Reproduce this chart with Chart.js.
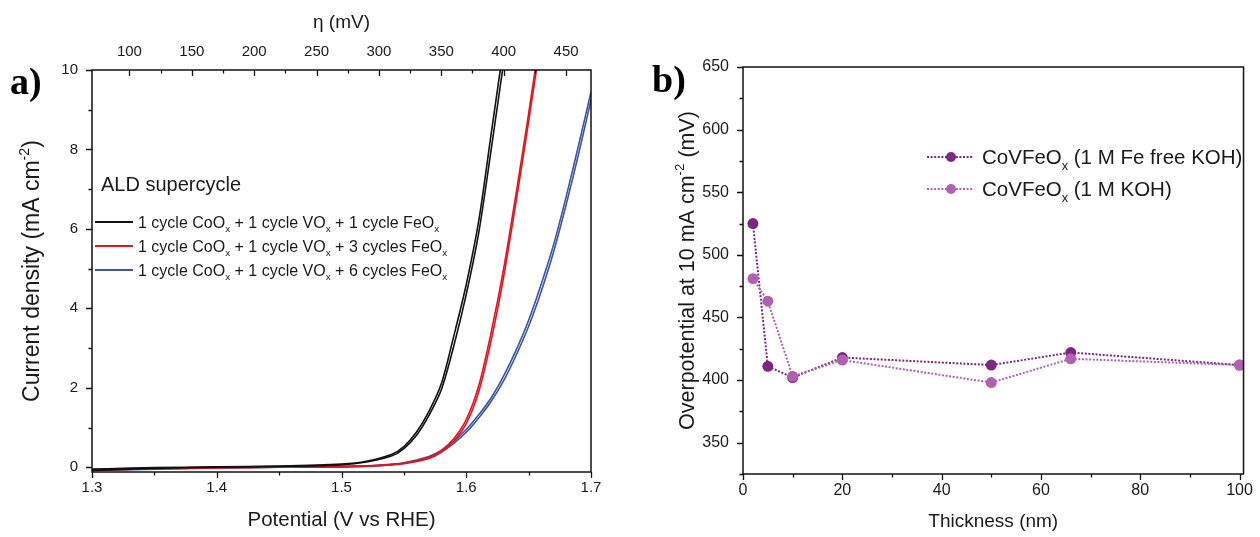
<!DOCTYPE html>
<html><head><meta charset="utf-8">
<script src="https://cdn.jsdelivr.net/npm/chart.js@4.4.1/dist/chart.umd.min.js"></script>
<style>
html,body{margin:0;padding:0;background:#fff;}
#wrap{position:relative;width:1260px;height:537px;overflow:hidden;background:#fff;}
.pane{position:absolute;top:0;width:630px;height:537px;}
#pa{left:0;} #pb{left:630px;}
</style></head><body>
<div id="wrap">
<div class="pane" id="pa"><canvas id="ca" width="630" height="537"></canvas></div>
<div class="pane" id="pb"><canvas id="cb" width="630" height="537"></canvas></div>
</div>
<script>
// ---------- Panel a data ----------
const potTicks = [1.3, 1.4, 1.5, 1.6, 1.7];
const etaTicks = [100, 150, 200, 250, 300, 350, 400, 450];
const jTicks = [0, 2, 4, 6, 8, 10];
const legendTitleA = 'ALD supercycle';
const seriesLabelsA = [
  '1 cycle CoO_{x} + 1 cycle VO_{x} + 1 cycle FeO_{x}',
  '1 cycle CoO_{x} + 1 cycle VO_{x} + 3 cycles FeO_{x}',
  '1 cycle CoO_{x} + 1 cycle VO_{x} + 6 cycles FeO_{x}'
];
const blackV  = [1.30, 1.35, 1.40, 1.45, 1.50, 1.52, 1.54, 1.55, 1.56, 1.57, 1.58, 1.59, 1.60, 1.61, 1.62, 1.63];
const blackJ1 = [-0.05, -0.01, 0.01, 0.03, 0.08, 0.15, 0.32, 0.52, 0.88, 1.40, 2.10, 3.30, 4.60, 6.20, 8.40, 10.6];
const blackJ2 = [-0.08, -0.03, 0.00, 0.02, 0.06, 0.13, 0.28, 0.47, 0.80, 1.30, 1.95, 3.05, 4.35, 5.90, 8.00, 10.2];
const redV  = [1.30, 1.40, 1.45, 1.50, 1.53, 1.55, 1.57, 1.58, 1.59, 1.60, 1.61, 1.62, 1.63, 1.64, 1.65, 1.66];
const redJ1 = [-0.05, 0.00, 0.01, 0.02, 0.05, 0.10, 0.25, 0.42, 0.72, 1.20, 2.05, 3.40, 5.00, 6.90, 8.90, 11.0];
const redJ2 = [-0.07, -0.02, 0.00, 0.01, 0.04, 0.09, 0.22, 0.38, 0.66, 1.10, 1.90, 3.20, 4.80, 6.70, 8.70, 10.8];
const blueV  = [1.30, 1.40, 1.45, 1.50, 1.53, 1.55, 1.57, 1.58, 1.59, 1.60, 1.61, 1.62, 1.63, 1.64, 1.65, 1.66, 1.67, 1.68, 1.69, 1.70];
const blueJ1 = [-0.05, 0.00, 0.01, 0.02, 0.05, 0.11, 0.27, 0.42, 0.65, 0.95, 1.32, 1.75, 2.30, 2.95, 3.70, 4.60, 5.60, 6.80, 8.10, 9.45];
const blueJ2 = [-0.08, -0.02, 0.00, 0.01, 0.04, 0.10, 0.24, 0.38, 0.60, 0.88, 1.24, 1.66, 2.18, 2.82, 3.55, 4.42, 5.42, 6.60, 7.88, 9.25];

// ---------- Panel b data ----------
const thickness = [2, 5, 10, 20, 50, 66, 100];
const etaFeFree = [525, 411, 402, 418, 412, 422, 412];
const etaKOH    = [481, 463, 403, 416, 398, 417, 412];
const seriesLabelsB = ['CoVFeO_{x} (1 M Fe free KOH)', 'CoVFeO_{x} (1 M KOH)'];
const thickTicks = [0, 20, 40, 60, 80, 100];
const opTicks = [350, 400, 450, 500, 550, 600, 650];

// ---------- helpers ----------
const FAM = "'Liberation Sans', Arial, sans-serif";
const TXT = '#1a1a1a';
function parseRich(s){
  const parts=[]; const re=/([_^])\{([^}]*)\}/g; let last=0,m;
  while((m=re.exec(s))){
    if(m.index>last) parts.push({t:s.slice(last,m.index),k:'n'});
    parts.push({t:m[2],k:m[1]==='_'?'sub':'sup'}); last=re.lastIndex;
  }
  if(last<s.length) parts.push({t:s.slice(last),k:'n'});
  return parts;
}
function drawRich(ctx, s, x, y, size, align, color){
  const parts=parseRich(s);
  let total=0;
  parts.forEach(p=>{p.sz = p.k==='n'?size:size*0.62; ctx.font=p.sz+'px '+FAM; p.w=ctx.measureText(p.t).width; total+=p.w;});
  let cx = align==='center'? x-total/2 : (align==='right'? x-total : x);
  const base = y + size*0.35;
  ctx.save(); ctx.fillStyle=color||TXT; ctx.textBaseline='alphabetic'; ctx.textAlign='left';
  parts.forEach(p=>{
    ctx.font=p.sz+'px '+FAM;
    const dy = p.k==='sub'? size*0.3 : (p.k==='sup'? -size*0.42 : 0);
    ctx.fillText(p.t, cx, base+dy); cx+=p.w;
  });
  ctx.restore();
}
function pts(xs, ys){ return xs.map((v,i)=>({x:v,y:ys[i]})); }
function fixedTicks(arr){ return s=>{ s.ticks = arr.map(v=>({value:v})); }; }
function minorOf(arr){ const r=[]; for(let i=0;i<arr.length-1;i++) r.push((arr[i]+arr[i+1])/2); return r; }

function drawTicks(ctx, scale, values, len, dir){
  const ca = scale.chart.chartArea;
  ctx.beginPath();
  values.forEach(v=>{
    const p = Math.round(scale.getPixelForValue(v))+0.5;
    if(scale.position==='bottom'){ const s = dir==='out'?1:-1; ctx.moveTo(p, ca.bottom); ctx.lineTo(p, ca.bottom+s*len); }
    else if(scale.position==='top'){ const s = dir==='out'?-1:1; ctx.moveTo(p, ca.top); ctx.lineTo(p, ca.top+s*len); }
    else if(scale.position==='left'){ const s = dir==='out'?-1:1; ctx.moveTo(ca.left, p); ctx.lineTo(ca.left+s*len, p); }
  });
  ctx.stroke();
}

const COL = {black:'#111111', red:'#e3141c', blue:'#3b55a6', dark:'#7d2783', light:'#b460b2'};

// ---------- Panel a ----------
const plugA = {
  id:'decorA',
  afterDraw(chart){
    const ctx=chart.ctx, ca=chart.chartArea, sc=chart.scales;
    ctx.save();
    ctx.strokeStyle='#111'; ctx.lineWidth=1.5;
    ctx.strokeRect(ca.left, ca.top, ca.right-ca.left, ca.bottom-ca.top);
    ctx.lineWidth=1.3;
    drawTicks(ctx, sc.y, jTicks, 6, 'out');
    drawTicks(ctx, sc.y, minorOf(jTicks), 3.5, 'out');
    drawTicks(ctx, sc.x, potTicks, 6, 'out');
    drawTicks(ctx, sc.x, minorOf(potTicks), 3.5, 'out');
    drawTicks(ctx, sc.xTop, etaTicks, 6, 'in');
    drawTicks(ctx, sc.xTop, minorOf(etaTicks), 3.5, 'in');
    ctx.save(); ctx.translate(31, (ca.top+ca.bottom)/2); ctx.rotate(-Math.PI/2);
    drawRich(ctx, 'Current density (mA cm^{-2})', 0, 0, 23, 'center');
    ctx.restore();
    ctx.fillStyle='#000'; ctx.font="bold 38px 'Liberation Serif', 'Times New Roman', serif";
    ctx.textBaseline='alphabetic'; ctx.textAlign='left';
    ctx.fillText('a)', 10, 94);
    drawRich(ctx, legendTitleA, 101, 184, 20, 'left');
    const ys=[222,246,270];
    const ds=[0,2,4];
    seriesLabelsA.forEach((lab,i)=>{
      const d=chart.data.datasets[ds[i]];
      ctx.strokeStyle=d.borderColor; ctx.lineWidth=2;
      ctx.beginPath(); ctx.moveTo(95, ys[i]); ctx.lineTo(133, ys[i]); ctx.stroke();
      drawRich(ctx, lab, 138, ys[i], 16, 'left');
    });
    ctx.restore();
  }
};

function lineDs(xs, ys, color){
  return {data: pts(xs, ys), borderColor: color, backgroundColor: color, borderWidth: 1.6,
          showLine: true, pointRadius: 0, tension: 0.3, xAxisID:'x', yAxisID:'y'};
}

new Chart(document.getElementById('ca'), {
  type:'scatter',
  data:{datasets:[
    lineDs(blackV, blackJ1, COL.black), lineDs(blackV, blackJ2, COL.black),
    lineDs(redV, redJ1, COL.red), lineDs(redV, redJ2, COL.red),
    lineDs(blueV, blueJ1, COL.blue), lineDs(blueV, blueJ2, COL.blue)
  ]},
  options:{
    responsive:false, animation:false, devicePixelRatio:1,
    layout:{padding:{left:0, right:39, top:0, bottom:0}},
    plugins:{legend:{display:false}, tooltip:{enabled:false}},
    scales:{
      x:{type:'linear', position:'bottom', min:1.3, max:1.7,
         afterBuildTicks: fixedTicks(potTicks),
         afterFit: s=>{ s.height = 65; },
         ticks:{callback:v=>v.toFixed(1), font:{family:FAM, size:15}, color:TXT, padding:7, maxRotation:0, autoSkip:false},
         grid:{display:false, drawTicks:false}, border:{display:false},
         title:{display:true, text:'Potential (V vs RHE)', font:{family:FAM, size:20.5}, color:TXT, padding:{top:0, bottom:4}}},
      xTop:{type:'linear', position:'top', min:70, max:470,
         afterBuildTicks: fixedTicks(etaTicks),
         afterFit: s=>{ s.height = 70; },
         ticks:{callback:v=>String(v), font:{family:FAM, size:15}, color:TXT, padding:9, maxRotation:0, autoSkip:false},
         grid:{display:false, drawTicks:false}, border:{display:false},
         title:{display:true, text:'η (mV)', font:{family:FAM, size:19}, color:TXT, padding:{top:11, bottom:0}}},
      y:{type:'linear', position:'left', min:-0.12, max:10,
         afterBuildTicks: fixedTicks(jTicks),
         afterFit: s=>{ s.width = 92; },
         ticks:{callback:v=>String(v), font:{family:FAM, size:15}, color:TXT, padding:14},
         grid:{display:false, drawTicks:false}, border:{display:false}}
    }
  },
  plugins:[plugA]
});

// ---------- Panel b ----------
const plugB = {
  id:'decorB',
  afterDraw(chart){
    const ctx=chart.ctx, ca=chart.chartArea, sc=chart.scales;
    ctx.save();
    ctx.strokeStyle='#111'; ctx.lineWidth=1.5;
    ctx.strokeRect(ca.left, ca.top, ca.right-ca.left, ca.bottom-ca.top);
    ctx.lineWidth=1.3;
    drawTicks(ctx, sc.y, opTicks, 6, 'out');
    drawTicks(ctx, sc.y, minorOf(opTicks).concat([opTicks[0]-25]), 3.5, 'out');
    drawTicks(ctx, sc.x, thickTicks, 6, 'out');
    drawTicks(ctx, sc.x, minorOf(thickTicks), 3.5, 'out');
    ctx.save(); ctx.translate(56, (ca.top+ca.bottom)/2); ctx.rotate(-Math.PI/2);
    drawRich(ctx, 'Overpotential at 10 mA cm^{-2} (mV)', 0, 0, 21.5, 'center');
    ctx.restore();
    ctx.fillStyle='#000'; ctx.font="bold 38px 'Liberation Serif', 'Times New Roman', serif";
    ctx.textBaseline='alphabetic'; ctx.textAlign='left';
    ctx.fillText('b)', 22, 92);
    const ys=[157,189];
    seriesLabelsB.forEach((lab,i)=>{
      const d=chart.data.datasets[i];
      ctx.strokeStyle=d.borderColor; ctx.lineWidth=2; ctx.setLineDash([2,1.6]);
      ctx.beginPath(); ctx.moveTo(297, ys[i]); ctx.lineTo(343, ys[i]); ctx.stroke();
      ctx.setLineDash([]);
      ctx.fillStyle=d.pointBackgroundColor;
      ctx.beginPath(); ctx.arc(321, ys[i], 5, 0, Math.PI*2); ctx.fill();
      drawRich(ctx, lab, 352, ys[i], 20.5, 'left');
    });
    ctx.restore();
  }
};

function dotDs(ys, color, order){
  return {data: pts(thickness, ys), borderColor: color, backgroundColor: color, pointBackgroundColor: color,
          pointBorderWidth:0, pointRadius:5.5, borderWidth:2, borderDash:[2,1.6], showLine:true, order:order};
}

new Chart(document.getElementById('cb'), {
  type:'scatter',
  data:{datasets:[ dotDs(etaFeFree, COL.dark, 1), dotDs(etaKOH, COL.light, 0) ]},
  options:{
    responsive:false, animation:false, devicePixelRatio:1,
    layout:{padding:{left:0, right:11, top:67, bottom:0}},
    plugins:{legend:{display:false}, tooltip:{enabled:false}},
    scales:{
      x:{type:'linear', position:'bottom', min:0, max:100.8,
         afterBuildTicks: fixedTicks(thickTicks),
         afterFit: s=>{ s.height = 63; },
         ticks:{callback:v=>String(v), font:{family:FAM, size:16}, color:TXT, padding:7, maxRotation:0, autoSkip:false},
         grid:{display:false, drawTicks:false}, border:{display:false},
         title:{display:true, text:'Thickness (nm)', font:{family:FAM, size:19}, color:TXT, padding:{top:0, bottom:4}}},
      y:{type:'linear', position:'left', min:325, max:650,
         afterBuildTicks: fixedTicks(opTicks),
         afterFit: s=>{ s.width = 113; },
         ticks:{callback:v=>String(v), font:{family:FAM, size:16}, color:TXT, padding:14},
         grid:{display:false, drawTicks:false}, border:{display:false}}
    }
  },
  plugins:[plugB]
});
</script>
</body></html>
